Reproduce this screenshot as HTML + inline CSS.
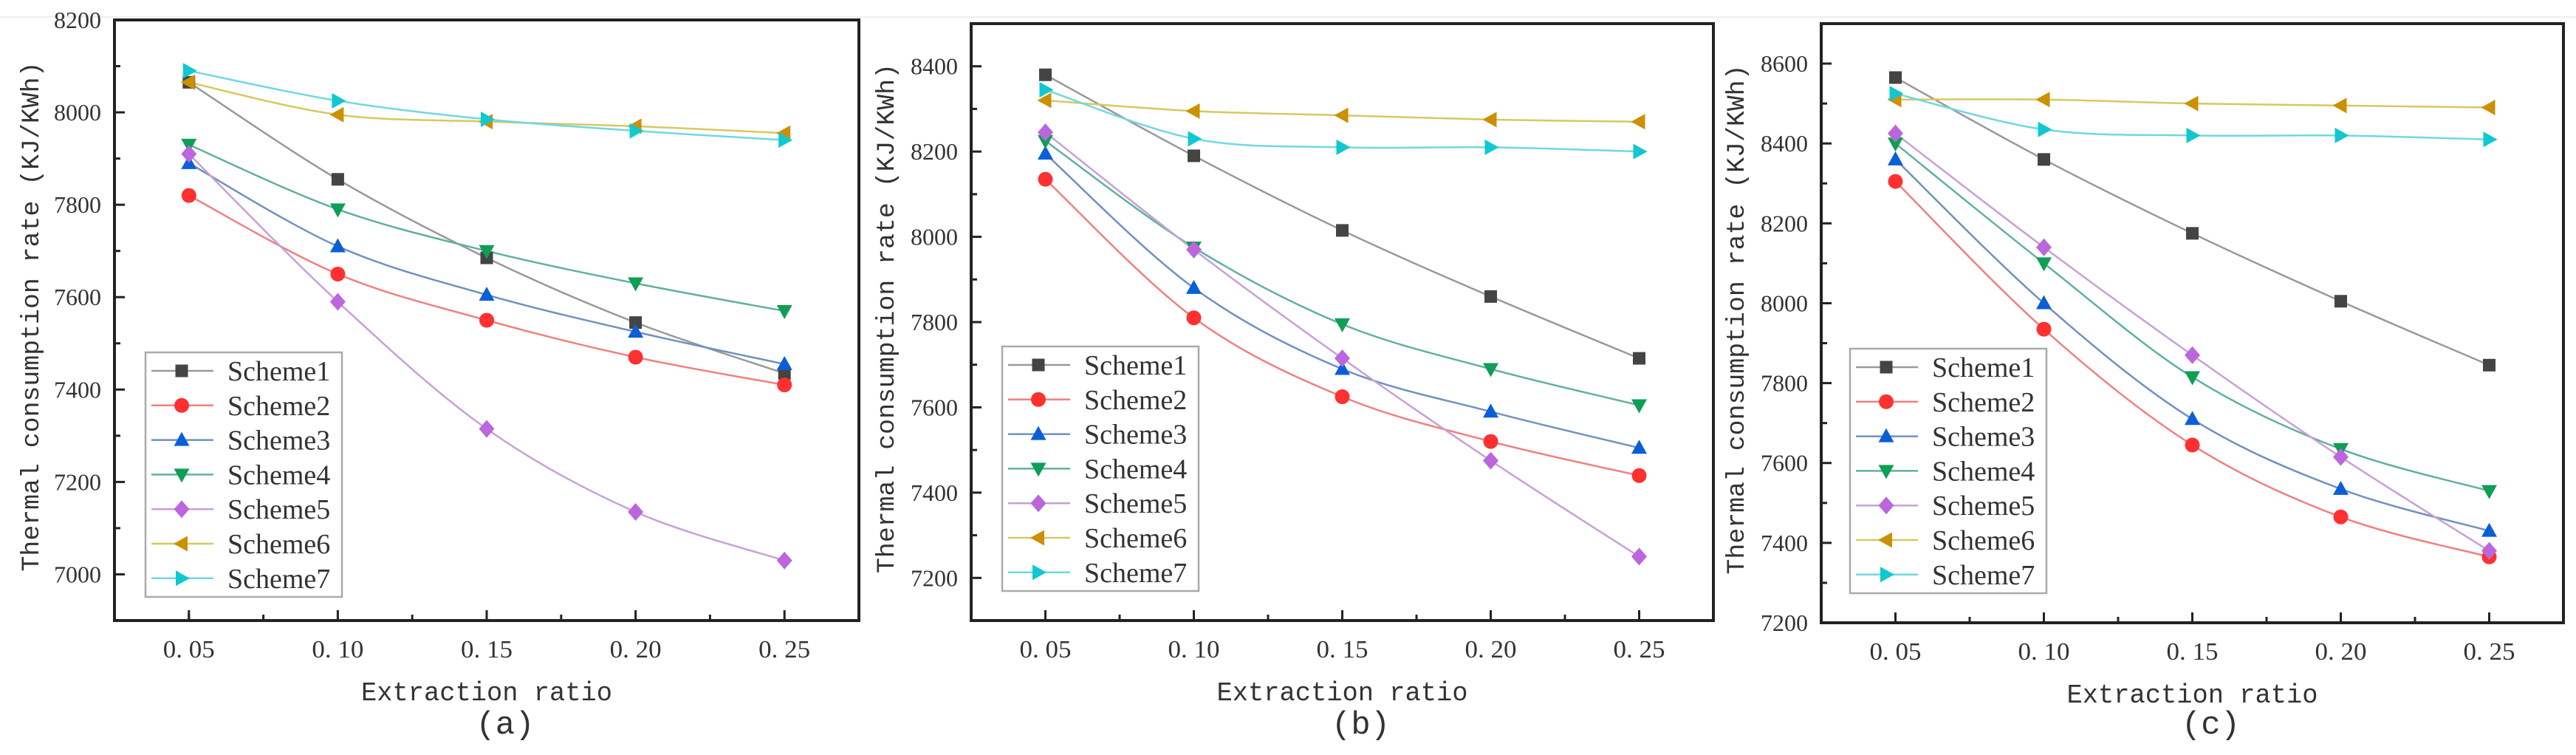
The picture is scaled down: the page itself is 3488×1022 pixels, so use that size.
<!DOCTYPE html>
<html><head><meta charset="utf-8"><style>
html,body{margin:0;padding:0;background:#fff}
svg{display:block}
text{font-family:"Liberation Serif",serif;fill:#333}
.mono{font-family:"Liberation Mono",monospace}
</style></head><body>
<svg id="chart" xmlns="http://www.w3.org/2000/svg" width="3488" height="1022" viewBox="0 0 3488 1022">
<line x1="0" y1="23" x2="3488" y2="23" stroke="#eee" stroke-width="2"/>
</svg>
<script>
const xCats = [0.05, 0.10, 0.15, 0.20, 0.25];
const xTickLabels = ["0. 05", "0. 10", "0. 15", "0. 20", "0. 25"];
const seriesNames = ["Scheme1","Scheme2","Scheme3","Scheme4","Scheme5","Scheme6","Scheme7"];
const panelLabels = ["(a)","(b)","(c)"];
const yTicksA = [7000,7200,7400,7600,7800,8000,8200];
const yTicksB = [7200,7400,7600,7800,8000,8200,8400];
const yTicksC = [7200,7400,7600,7800,8000,8200,8400,8600];
const yDomA = [6900, 8200];
const yDomB = [7100, 8500];
const yDomC = [7200, 8700];
const a1=[8065,7855,7685,7545,7435], a2=[7820,7650,7550,7470,7410], a3=[7890,7710,7605,7525,7455], a4=[7930,7790,7700,7630,7570], a5=[7910,7590,7315,7135,7030], a6=[8065,7995,7980,7970,7955], a7=[8090,8025,7985,7960,7940];
const b1=[8380,8190,8015,7860,7715], b2=[8135,7810,7625,7520,7440], b3=[8195,7880,7690,7590,7505], b4=[8225,7975,7795,7690,7605], b5=[8245,7970,7715,7475,7250], b6=[8320,8295,8285,8275,8270], b7=[8345,8230,8210,8210,8200];
const c1=[8565,8360,8175,8005,7845], c2=[8305,7935,7645,7465,7365], c3=[8360,8000,7710,7535,7430], c4=[8400,8100,7815,7635,7530], c5=[8425,8140,7870,7615,7380], c6=[8510,8510,8500,8495,8490], c7=[8525,8435,8420,8420,8410];

const NS="http://www.w3.org/2000/svg";
const svg=document.getElementById('chart');
const colors=["#444444","#ff3030","#0a5fd8","#0f9e55","#bb66dd","#cc9000","#10c8d0"];
const lineColors=["#999","#f08080","#7090c0","#60b0a0","#c8a0d8","#d8c860","#70d8e0"];
const shapes=["square","circle","up","down","diamond","left","right"];
const panels=[
 {L:155,R:1163,T:27,B:840,dom:yDomA,ticks:yTicksA,data:[a1,a2,a3,a4,a5,a6,a7],leg:[197,477,266,331],ylx:40},
 {L:1315,R:2320,T:32,B:840,dom:yDomB,ticks:yTicksB,data:[b1,b2,b3,b4,b5,b6,b7],leg:[1357,469,266,331],ylx:1198},
 {L:2466,R:3471,T:32,B:843,dom:yDomC,ticks:yTicksC,data:[c1,c2,c3,c4,c5,c6,c7],leg:[2505,472,266,331],ylx:2349}
];
function mk(tag,attrs,parent){const e=document.createElementNS(NS,tag);for(const k in attrs)e.setAttribute(k,attrs[k]);(parent||svg).appendChild(e);return e;}
function marker(g,shape,x,y,col,s){
  let e;
  if(shape==="square") e=mk('rect',{x:x-s*0.85,y:y-s*0.85,width:s*1.7,height:s*1.7,fill:col},g);
  else if(shape==="circle") e=mk('circle',{cx:x,cy:y,r:s,fill:col},g);
  else {
    let p;
    if(shape==="up") p=[[x,y-s*1.1],[x+s*1.05,y+s*0.8],[x-s*1.05,y+s*0.8]];
    if(shape==="down") p=[[x,y+s*1.1],[x+s*1.05,y-s*0.8],[x-s*1.05,y-s*0.8]];
    if(shape==="diamond") p=[[x,y-s*1.2],[x+s*1.05,y],[x,y+s*1.2],[x-s*1.05,y]];
    if(shape==="left") p=[[x-s*1.1,y],[x+s*0.8,y-s*1.05],[x+s*0.8,y+s*1.05]];
    if(shape==="right") p=[[x+s*1.1,y],[x-s*0.8,y-s*1.05],[x-s*0.8,y+s*1.05]];
    e=mk('polygon',{points:p.map(q=>q.join(',')).join(' '),fill:col},g);
  }
  return e;
}
function smooth(pts){
  let d=`M${pts[0][0]},${pts[0][1]}`;
  for(let i=0;i<pts.length-1;i++){
    const p0=pts[Math.max(i-1,0)],p1=pts[i],p2=pts[i+1],p3=pts[Math.min(i+2,pts.length-1)];
    const c1x=p1[0]+(p2[0]-p0[0])/6,c1y=p1[1]+(p2[1]-p0[1])/6;
    const c2x=p2[0]-(p3[0]-p1[0])/6,c2y=p2[1]-(p3[1]-p1[1])/6;
    d+=` C${c1x},${c1y} ${c2x},${c2y} ${p2[0]},${p2[1]}`;
  }
  return d;
}
panels.forEach((P,pi)=>{
  const g=mk('g',{});
  
  
  const xs=v=>P.L+(v-0.025)/0.25*(P.R-P.L);
  const ys=v=>P.B-(v-P.dom[0])/(P.dom[1]-P.dom[0])*(P.B-P.T);
  // ticks
  xCats.forEach((v,i)=>{
    const x=xs(v);
    const t=mk('line',{x1:x,y1:P.B,x2:x,y2:P.B-14,stroke:'#222','stroke-width':3},g);
    
    
    const m=mk('line',{x1:x+(xs(0.1)-xs(0.05))/2,y1:P.B,x2:x+(xs(0.1)-xs(0.05))/2,y2:P.B-8,stroke:'#222','stroke-width':3},g);
    const lb=mk('text',{x:x,y:P.B+50,'font-size':34,'text-anchor':'middle',textLength:70,lengthAdjust:'spacingAndGlyphs'},g);
    lb.textContent=xTickLabels[i];
    
    
  });
  mk('line',{x1:xs(0.025)+(xs(0.1)-xs(0.05))/2,y1:P.B,x2:xs(0.025)+(xs(0.1)-xs(0.05))/2,y2:P.B-8,stroke:'#222','stroke-width':3},g);
  P.ticks.forEach(v=>{
    const y=ys(v);
    const t=mk('line',{x1:P.L,y1:y,x2:P.L+14,y2:y,stroke:'#222','stroke-width':3},g);
    
    
    if(ys(v+100)>P.T+3) mk('line',{x1:P.L,y1:ys(v+100),x2:P.L+8,y2:ys(v+100),stroke:'#222','stroke-width':3},g);
    const lb=mk('text',{x:P.L-18,y:y+11,'font-size':32,'text-anchor':'end'},g);
    lb.textContent=String(v);
    
    
  });
  if(ys(P.ticks[0]-100)<P.B-3) mk('line',{x1:P.L,y1:ys(P.ticks[0]-100),x2:P.L+8,y2:ys(P.ticks[0]-100),stroke:'#222','stroke-width':3},g);
  // series
  P.data.forEach((arr,si)=>{
    const pts=arr.map((v,i)=>[xs(xCats[i]),ys(v)]);
    const path=mk('path',{d:smooth(pts),fill:'none',stroke:lineColors[si],'stroke-width':2.5},g);
    
    
  });
  P.data.forEach((arr,si)=>{
    arr.forEach((v,i)=>{
      const m=marker(g,shapes[si],xs(xCats[i]),ys(v),colors[si],10);
      
      
    });
  });
  // frame
  const fr=mk('rect',{x:P.L,y:P.T,width:P.R-P.L,height:P.B-P.T,fill:'none',stroke:'#222','stroke-width':4},g);
  
  
  // legend
  const [lx,ly,lw,lh]=P.leg;
  const lg=mk('g',{},g);
  
  
  mk('rect',{x:lx,y:ly,width:lw,height:lh,fill:'#fff',stroke:'#aaa','stroke-width':2.5},lg);
  seriesNames.forEach((n,si)=>{
    const y=ly+25+si*46.8;
    const e=mk('g',{},lg);
    
    
    mk('line',{x1:lx+8,y1:y,x2:lx+92,y2:y,stroke:lineColors[si],'stroke-width':2.5},e);
    marker(e,shapes[si],lx+49,y,colors[si],10);
    const t=mk('text',{x:lx+111,y:y+13,'font-size':38},e);
    t.textContent=n;
  });
  // axis titles
  const yt=mk('text',{class:'mono',x:0,y:0,'font-size':34,'text-anchor':'middle',transform:`translate(${P.ylx+12},${(P.T+P.B)/2-5}) rotate(-90)`,textLength:690,lengthAdjust:'spacingAndGlyphs'},g);
  yt.textContent="Thermal consumption rate (KJ/KWh)";
  
  
  const xt=mk('text',{class:'mono',x:(P.L+P.R)/2,y:P.B+108,'font-size':36,'text-anchor':'middle',textLength:340,lengthAdjust:'spacingAndGlyphs'},g);
  xt.textContent="Extraction ratio";
  
  
  const pl=mk('text',{class:'mono',x:(P.L+P.R)/2+25,y:993,'font-size':44,'text-anchor':'middle','fill':'#111'},g);
  pl.textContent=panelLabels[pi];
  
  
});
</script>
</body></html>
